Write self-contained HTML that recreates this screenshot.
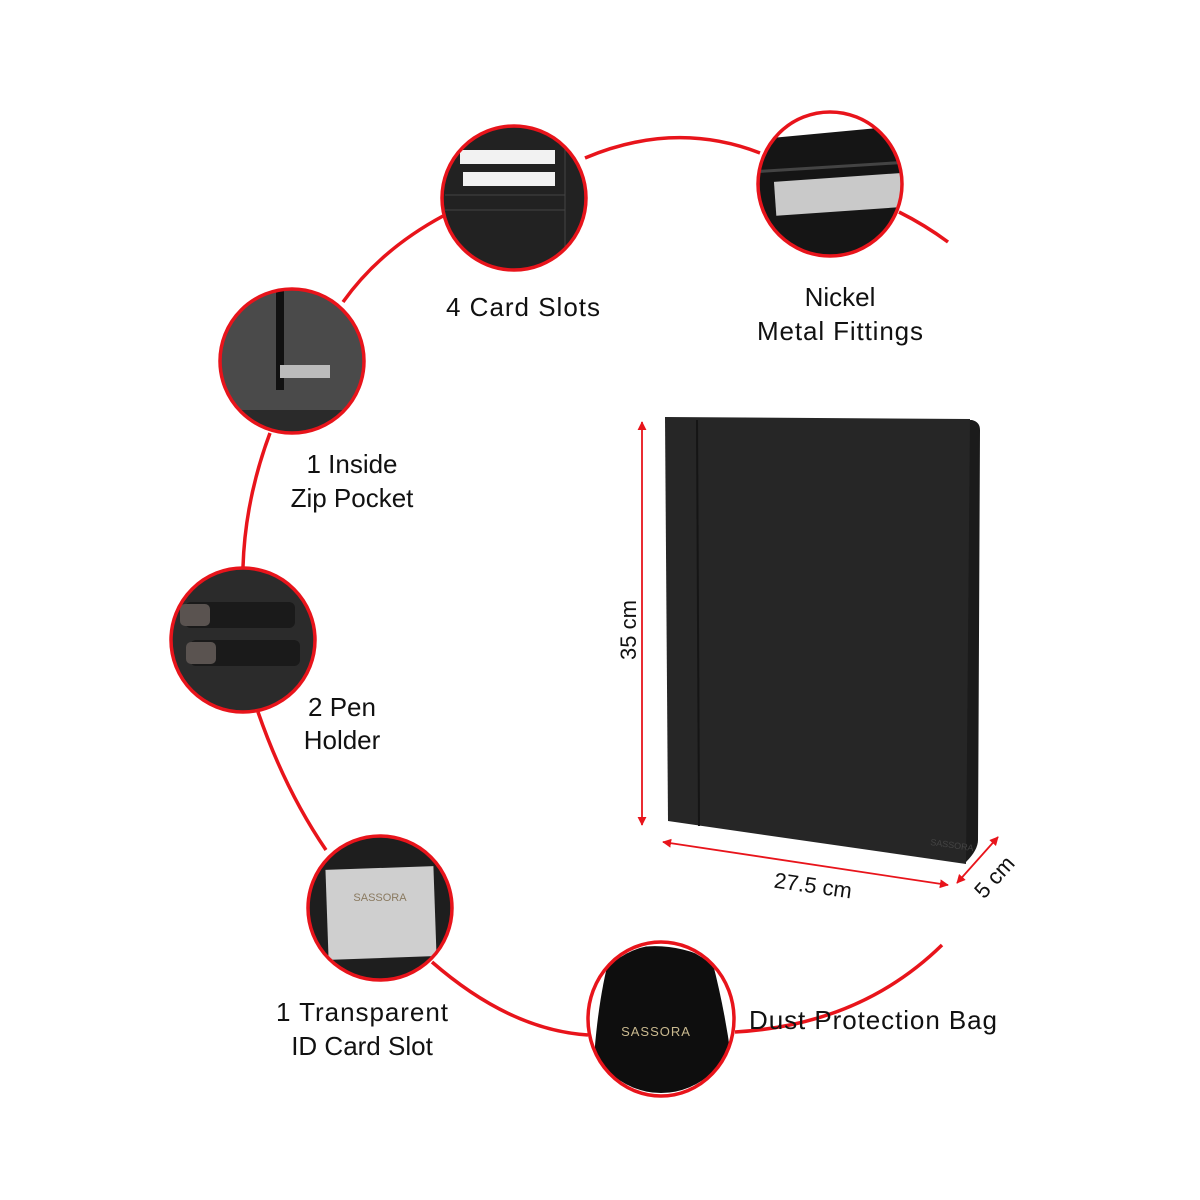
<!DOCTYPE html>
<html><head><meta charset="utf-8"><style>
html,body{margin:0;padding:0;background:#fff;}
svg{display:block;}
text{font-family:"Liberation Sans",Arial,sans-serif;fill:#111;}
</style></head><body>
<svg width="1200" height="1200" viewBox="0 0 1200 1200" xmlns="http://www.w3.org/2000/svg">
<defs>
<marker id="ar" viewBox="0 0 10 10" refX="9" refY="5" markerWidth="5" markerHeight="5" orient="auto-start-reverse"><path d="M0,0 L10,5 L0,10 z" fill="#e8141b"/></marker>
<clipPath id="c1"><circle cx="514" cy="198" r="72"/></clipPath>
<clipPath id="c2"><circle cx="830" cy="184" r="72"/></clipPath>
<clipPath id="c3"><circle cx="292" cy="361" r="72"/></clipPath>
<clipPath id="c4"><circle cx="243" cy="640" r="72"/></clipPath>
<clipPath id="c5"><circle cx="380" cy="908" r="72"/></clipPath>
<clipPath id="c6"><circle cx="661" cy="1019" r="74"/></clipPath>
</defs>
<rect width="1200" height="1200" fill="#fff"/>
<g fill="none" stroke="#e8141b" stroke-width="3.5">
<path d="M585,158 Q675,120 760,153"/>
<path d="M443,216 Q380,250 343,302"/>
<path d="M270,433 Q245,500 243,567"/>
<path d="M258,712 Q285,790 326,850"/>
<path d="M432,962 Q510,1030 588,1035"/>
<path d="M735,1032 Q860,1025 942,945"/>
<path d="M899,212 Q925,225 948,242"/>
</g>
<g clip-path="url(#c1)"><rect x="430" y="120" width="170" height="160" fill="#222"/>
<rect x="460" y="150" width="95" height="14" fill="#f2f2f2"/><rect x="463" y="172" width="92" height="14" fill="#f2f2f2"/>
<line x1="445" y1="195" x2="565" y2="195" stroke="#444"/><line x1="445" y1="210" x2="565" y2="210" stroke="#444"/><line x1="565" y1="140" x2="565" y2="260" stroke="#444"/></g>
<circle cx="514" cy="198" r="72" fill="none" stroke="#e8141b" stroke-width="3.5"/>
<g clip-path="url(#c2)"><rect x="750" y="100" width="160" height="170" fill="#151515"/>
<polygon points="750,140 910,125 910,100 750,100" fill="#fff"/>
<rect x="775" y="178" width="128" height="34" fill="#c9c9c9" transform="rotate(-4 830 195)"/>
<line x1="750" y1="172" x2="910" y2="162" stroke="#444" stroke-width="3"/></g>
<circle cx="830" cy="184" r="72" fill="none" stroke="#e8141b" stroke-width="3.5"/>
<g clip-path="url(#c3)"><rect x="210" y="280" width="170" height="160" fill="#4a4a4a"/>
<rect x="276" y="285" width="8" height="105" fill="#111"/><rect x="280" y="365" width="50" height="13" fill="#bbb"/>
<rect x="210" y="410" width="170" height="30" fill="#2a2a2a"/></g>
<circle cx="292" cy="361" r="72" fill="none" stroke="#e8141b" stroke-width="3.5"/>
<g clip-path="url(#c4)"><rect x="160" y="560" width="170" height="160" fill="#2b2b2b"/>
<rect x="185" y="602" width="110" height="26" rx="6" fill="#1a1a1a"/><rect x="180" y="604" width="30" height="22" rx="5" fill="#5a5350"/>
<rect x="190" y="640" width="110" height="26" rx="6" fill="#1a1a1a"/><rect x="186" y="642" width="30" height="22" rx="5" fill="#5a5350"/></g>
<circle cx="243" cy="640" r="72" fill="none" stroke="#e8141b" stroke-width="3.5"/>
<g clip-path="url(#c5)"><rect x="300" y="830" width="160" height="160" fill="#1e1e1e"/>
<rect x="327" y="868" width="108" height="90" fill="#cfcfcf" transform="rotate(-2 380 913)"/>
<text x="380" y="901" font-size="11" text-anchor="middle" style="fill:#8a7a60">SASSORA</text></g>
<circle cx="380" cy="908" r="72" fill="none" stroke="#e8141b" stroke-width="3.5"/>
<g clip-path="url(#c6)"><rect x="580" y="940" width="160" height="160" fill="#fff"/>
<path d="M610,955 Q660,935 712,960 Q730,1030 735,1095 L592,1095 Q595,1010 610,955z" fill="#0e0e0e"/>
<text x="656" y="1036" font-size="13" text-anchor="middle" style="fill:#c9b98f" letter-spacing="1">SASSORA</text></g>
<ellipse cx="661" cy="1019" rx="73" ry="77" fill="none" stroke="#e8141b" stroke-width="3.5"/>
<path d="M980,430 Q980,422 972,420 L966,420 L966,862 Q978,850 978,840z" fill="#1b1b1b"/>
<path d="M665,417 L970,419 L966,864 L668,821z" fill="#262626"/>
<line x1="697" y1="420" x2="699" y2="826" stroke="#151515" stroke-width="2"/>
<text x="930" y="845" font-size="9" style="fill:#444" transform="rotate(8 930 845)">SASSORA</text>
<g stroke="#e8141b" stroke-width="1.8" fill="none">
<line x1="642" y1="422" x2="642" y2="825" marker-start="url(#ar)" marker-end="url(#ar)"/>
<line x1="663" y1="842" x2="948" y2="885" marker-start="url(#ar)" marker-end="url(#ar)"/>
<line x1="957" y1="883" x2="998" y2="837" marker-start="url(#ar)" marker-end="url(#ar)"/>
</g>
<text x="628" y="630" font-size="22" text-anchor="middle" transform="rotate(-90 628 630)" dy="8">35 cm</text>
<text x="812" y="893" font-size="22" text-anchor="middle" transform="rotate(8 812 893)">27.5 cm</text>
<text x="1000" y="882" font-size="22" text-anchor="middle" transform="rotate(-48 1000 882)">5 cm</text>
<g font-size="26" text-anchor="middle" style="font-stretch:condensed">
<text x="523" y="316" textLength="154">4 Card Slots</text>
<text x="840" y="306">Nickel</text>
<text x="840" y="340" textLength="166">Metal Fittings</text>
<text x="352" y="473">1 Inside</text>
<text x="352" y="507">Zip Pocket</text>
<text x="342" y="716">2 Pen</text>
<text x="342" y="749">Holder</text>
<text x="362" y="1021" textLength="172">1 Transparent</text>
<text x="362" y="1055">ID Card Slot</text>
<text x="873" y="1029" textLength="248">Dust Protection Bag</text>
</g>
</svg>
</body></html>
